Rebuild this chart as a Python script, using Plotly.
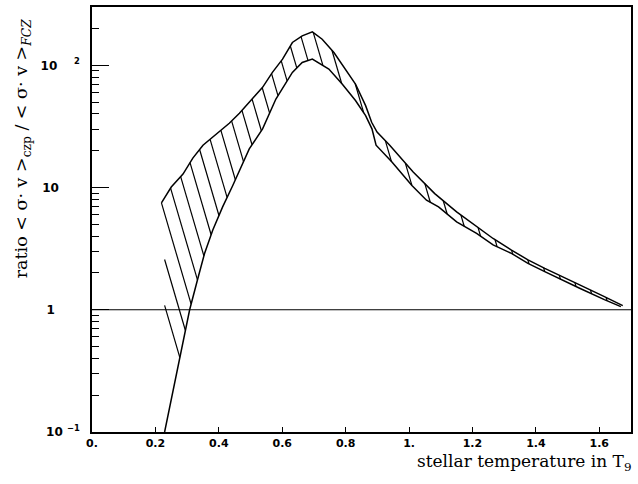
import numpy as np
import plotly.graph_objects as go

# ---------------- data ----------------
upper_T = [0.219, 0.250, 0.287, 0.318, 0.350, 0.392, 0.433, 0.465, 0.496, 0.538,
           0.569, 0.601, 0.632, 0.663, 0.695, 0.726, 0.763, 0.800, 0.831, 0.863,
           0.882, 0.899, 0.939, 1.013, 1.081, 1.150, 1.213, 1.265, 1.323, 1.375,
           1.428, 1.480, 1.538, 1.616, 1.674]
upper_ratio = [7.5, 10.1, 12.9, 17.4, 22.2, 27.3, 33.6, 40.6, 49.9, 66.1,
               87.5, 112.3, 153.7, 174.2, 187.8, 163.5, 127.4, 93.1, 70.3, 46.8,
               34.2, 28.4, 22.2, 13.4, 8.92, 6.33, 4.77, 3.83, 3.08, 2.56,
               2.18, 1.87, 1.60, 1.28, 1.08]

lower_T = [0.229, 0.266, 0.287, 0.308, 0.334, 0.355, 0.381, 0.412, 0.444, 0.496,
           0.538, 0.580, 0.632, 0.663, 0.695, 0.747, 0.789, 0.831, 0.863, 0.883,
           0.896, 0.946, 1.009, 1.055, 1.093, 1.150, 1.213, 1.265, 1.323, 1.375,
           1.428, 1.480, 1.538, 1.616, 1.668]
lower_ratio = [0.10, 0.295, 0.551, 1.0, 1.81, 2.89, 4.49, 6.95, 10.4, 20.7,
               30.2, 53.0, 87.5, 105.6, 112.3, 93.1, 70.3, 51.5, 38.8, 30.2,
               22.2, 16.2, 10.4, 7.88, 6.95, 5.24, 4.21, 3.39, 2.89, 2.40,
               2.05, 1.76, 1.50, 1.21, 1.06]

reference_ratio = 1.0

x_ticks = [0.0, 0.2, 0.4, 0.6, 0.8, 1.0, 1.2, 1.4, 1.6]
x_tick_labels = ["0.", "0.2", "0.4", "0.6", "0.8", "1.", "1.2", "1.4", "1.6"]
y_ticks = [0.1, 1, 10, 100]
y_tick_labels = ["10&nbsp;<sup>−1</sup>", "1" + "&nbsp;" * 6, "10" + "&nbsp;" * 5,
                 "10&nbsp;&nbsp;&nbsp;&nbsp;<sup>2</sup>"]

# ---------------- layout constants ----------------
W, H = 638, 484
ML, MR, MT, MB = 92, 5, 7, 52
x_range = [0.0, 1.7]
y_range_log = [-1.0, float(np.log10(300))]
PW, PH = W - ML - MR, H - MT - MB
KU = PW / (x_range[1] - x_range[0])
KV = PH / (y_range_log[1] - y_range_log[0])

# hatch style (direction & spacing in screen pixels)
S = 3.4
DC = 13.5


def to_uv(xs, ys):
    xs = np.asarray(xs, float)
    ys = np.asarray(ys, float)
    return xs * KU, -np.log10(ys) * KV


def from_uv(u, v):
    return u / KU, 10 ** (-v / KV)


def intersect(c, U, V):
    F = U - V / S
    for i in range(len(U) - 1):
        a, b = F[i] - c, F[i + 1] - c
        if a == 0:
            return U[i], V[i]
        if a * b < 0 or b == 0:
            t = a / (a - b)
            return U[i] + t * (U[i + 1] - U[i]), V[i] + t * (V[i + 1] - V[i])
    return None


Uu, Vu = to_uv(upper_T, upper_ratio)
Ul, Vl = to_uv(lower_T, lower_ratio)
c0 = Uu[0] - Vu[0] / S
u_left = max(Uu[0], Ul[0])
cmax = max((Uu - Vu / S).max(), (Ul - Vl / S).max())

hx, hy = [], []
k = -4
while c0 + k * DC <= cmax:
    c = c0 + k * DC
    k += 1
    lo = intersect(c, Ul, Vl)
    if lo is None:
        continue
    up = intersect(c, Uu, Vu)
    if up is None:
        if c < c0:
            vt = S * (u_left - c)
            if vt < lo[1] and lo[0] - u_left > 12:
                up = (u_left, vt)
            else:
                continue
        else:
            continue
    x1, y1 = from_uv(*up)
    x2, y2 = from_uv(*lo)
    hx += [x1, x2, None]
    hy += [y1, y2, None]

fig = go.Figure()
fig.add_trace(go.Scatter(x=hx, y=hy, mode="lines",
                         line=dict(color="black", width=1.2), hoverinfo="skip"))
fig.add_trace(go.Scatter(x=upper_T, y=upper_ratio, mode="lines",
                         line=dict(color="black", width=1.5)))
fig.add_trace(go.Scatter(x=lower_T, y=lower_ratio, mode="lines",
                         line=dict(color="black", width=1.5)))
fig.add_trace(go.Scatter(x=x_range, y=[reference_ratio, reference_ratio], mode="lines",
                         line=dict(color="black", width=1.2)))

fig.update_layout(
    width=W, height=H,
    margin=dict(l=ML, r=MR, t=MT, b=MB),
    paper_bgcolor="white", plot_bgcolor="white",
    showlegend=False,
    font=dict(family="DejaVu Sans", color="black"),
)
fig.update_xaxes(
    range=x_range, showgrid=False, zeroline=False,
    showline=True, linecolor="black", linewidth=1.5, mirror=True,
    ticks="inside", ticklen=5, tickwidth=1.2, tickcolor="black",
    tickvals=x_ticks, ticktext=["<b>%s</b>" % t for t in x_tick_labels],
    tickfont=dict(family="DejaVu Sans", size=11, color="black"),
)
fig.update_yaxes(
    type="log", range=y_range_log, showgrid=False, zeroline=False,
    showline=True, linecolor="black", linewidth=1.5, mirror=True,
    ticks="inside", ticklen=17, tickwidth=1.2, tickcolor="black",
    tickvals=y_ticks, ticktext=["<b>%s</b>" % t for t in y_tick_labels],
    tickfont=dict(family="DejaVu Sans", size=12, color="black"),
    ticklabelstandoff=8,
    minor=dict(ticks="inside", ticklen=7, tickwidth=1, tickcolor="black",
               dtick="D1", showgrid=False),
)

fig.add_annotation(
    text="ratio &lt; σ· v &gt;<sub>czp</sub> / &lt; σ· v &gt;<sub><i>FCZ</i></sub>",
    xref="paper", yref="paper", x=(22 - ML) / PW, y=(H - MB - 149) / PH,
    xanchor="center", yanchor="middle", textangle=-90, showarrow=False,
    font=dict(family="DejaVu Serif", size=17.5, color="black"),
)
fig.add_annotation(
    text="stellar temperature in T<sub>9</sub>",
    xref="paper", yref="paper", x=(W - 3 - ML) / PW, y=-(462 - (H - MB)) / PH,
    xanchor="right", yanchor="middle", showarrow=False,
    font=dict(family="DejaVu Serif", size=17, color="black"),
)

fig.write_html(
    "out.html",
    config={"displayModeBar": False},
    post_script="document.body.style.margin='0';document.body.style.padding='0';"
                "document.documentElement.style.overflow='hidden';",
)
